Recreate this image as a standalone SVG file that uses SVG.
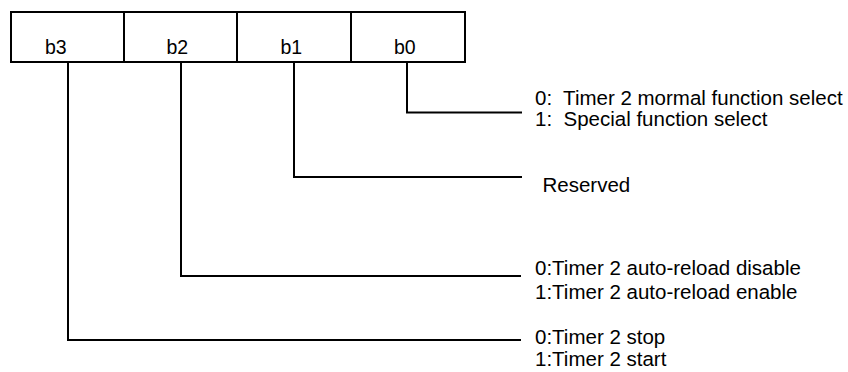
<svg xmlns="http://www.w3.org/2000/svg" width="848" height="372" viewBox="0 0 848 372">
<style>
.box{fill:#fff;stroke:#000;stroke-width:2}
.ln{fill:none;stroke:#000;stroke-width:2}
.bit{font-family:"Liberation Sans",Arial,sans-serif;font-size:19.5px;fill:#000}
.lbl{font-family:"Liberation Sans",Arial,sans-serif;font-size:20.5px;fill:#000}
</style>
<rect width="848" height="372" fill="#fff"/>
<g id="register">
<g id="cell-b3"><rect class="box" x="11" y="12" width="113" height="50"/><text class="bit" x="45" y="54">b3</text></g>
<g id="cell-b2"><rect class="box" x="124" y="12" width="113" height="50"/><text class="bit" x="166.5" y="54">b2</text></g>
<g id="cell-b1"><rect class="box" x="237" y="12" width="114" height="50"/><text class="bit" x="280.5" y="54">b1</text></g>
<g id="cell-b0"><rect class="box" x="351" y="12" width="114" height="50"/><text class="bit" x="394" y="54">b0</text></g>
</g>
<g id="connectors">
<polyline class="ln" points="407,62 407,112.5 522,112.5"/>
<polyline class="ln" points="294,62 294,177 522,177"/>
<polyline class="ln" points="181,62 181,276 521,276"/>
<polyline class="ln" points="68,62 68,340 521,340"/>
</g>
<g id="desc-b0">
<text class="lbl" xml:space="preserve" x="535" y="104.5">0:  Timer 2 mormal function select</text>
<text class="lbl" xml:space="preserve" x="535" y="126">1:  Special function select</text>
</g>
<g id="desc-b1">
<text class="lbl" x="542.5" y="192">Reserved</text>
</g>
<g id="desc-b2">
<text class="lbl" x="535" y="275">0:Timer 2 auto-reload disable</text>
<text class="lbl" x="535" y="299">1:Timer 2 auto-reload enable</text>
</g>
<g id="desc-b3">
<text class="lbl" x="535" y="344">0:Timer 2 stop</text>
<text class="lbl" x="535" y="366">1:Timer 2 start</text>
</g>
</svg>
